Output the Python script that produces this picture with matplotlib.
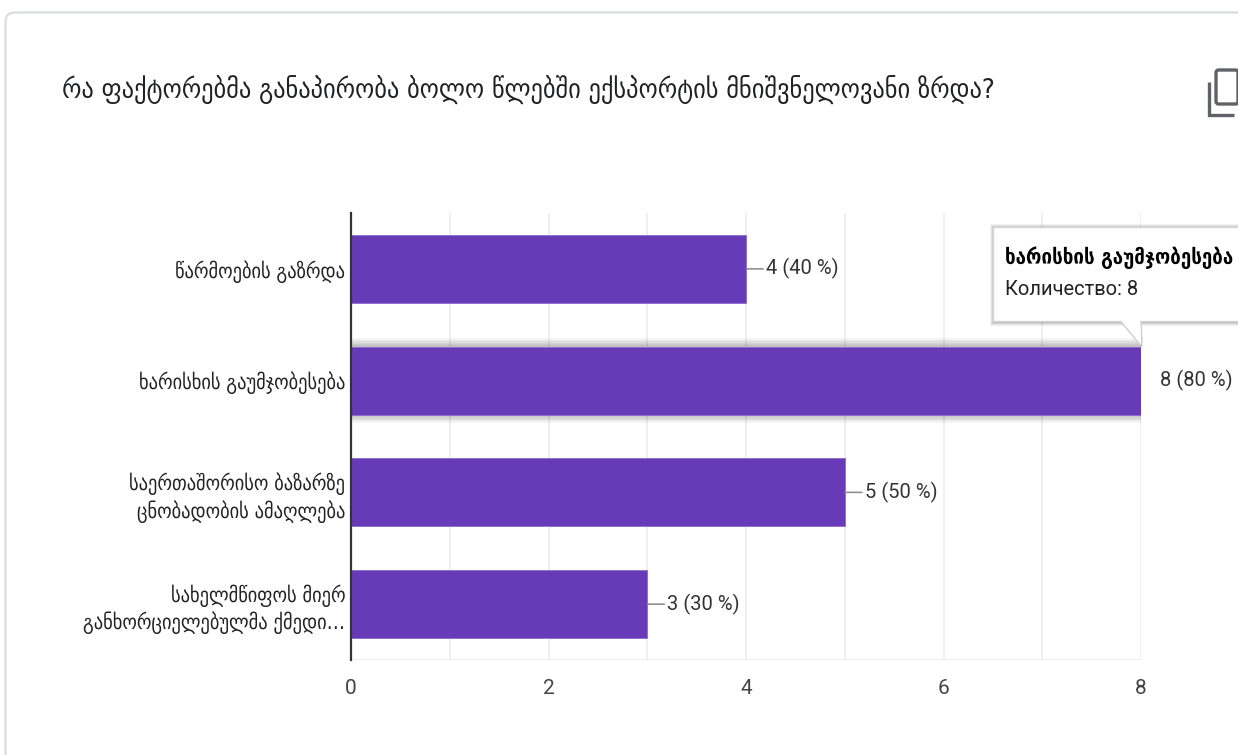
import matplotlib
matplotlib.use("Agg")
import matplotlib.pyplot as plt
from matplotlib.patches import FancyBboxPatch, Rectangle, Polygon
from matplotlib.lines import Line2D
from matplotlib.transforms import IdentityTransform

# --- data -------------------------------------------------------------
title = "რა ფაქტორებმა განაპირობა ბოლო წლებში ექსპორტის მნიშვნელოვანი ზრდა?"
categories = [
    "წარმოების გაზრდა",
    "ხარისხის გაუმჯობესება",
    "საერთაშორისო ბაზარზე\nცნობადობის ამაღლება",
    "სახელმწიფოს მიერ\nგანხორციელებულმა ქმედი…",
]
counts = [4, 8, 5, 3]
respondents = 10
x_ticks = [0, 2, 4, 6, 8]
highlighted = 1
tooltip_title = "ხარისხის გაუმჯობესება"
tooltip_label = "Количество"

# --- styles -----------------------------------------------------------
W, H = 1238, 755
BAR = "#673ab7"
GEO = dict(family=["DejaVu Sans"], fontstretch="condensed")
NUM = dict(family=["Roboto", "DejaVu Sans"])

fig = plt.figure(figsize=(W / 100, H / 100), dpi=100)
fig.patch.set_facecolor("white")

def fx(px):
    return px / W

def fy(py):
    return 1 - py / H

# card outline
card = FancyBboxPatch((5.5, -20), W + 40, H - 12.5 + 20,
                      boxstyle="round,pad=0,rounding_size=9",
                      transform=IdentityTransform(), facecolor="white",
                      edgecolor="#dadce0", linewidth=1.6, zorder=-5)
fig.patches.append(card)

# title
fig.text(fx(62), fy(90), title, fontsize=19.5, color="#202124",
         ha="left", va="center", **GEO)

# copy icon
icon_c = "#5f6368"
fig.add_artist(Line2D([fx(1208.5), fx(1208.5), fx(1234)],
                      [fy(82), fy(114.5), fy(114.5)],
                      color=icon_c, lw=2.4, solid_capstyle="butt",
                      solid_joinstyle="miter"))
fig.patches.append(FancyBboxPatch((1216, H - 104), 22, 34,
                                  boxstyle="round,pad=0,rounding_size=2.5",
                                  transform=IdentityTransform(),
                                  facecolor="none", edgecolor=icon_c, lw=2.4))

# --- chart ------------------------------------------------------------
ax = fig.add_axes([fx(351), fy(660), fx(1141) - fx(351), fy(213) - fy(660)])
ax.set_facecolor("none")
ax.set_xlim(0, 8)
ax.set_ylim(len(categories) - 0.5, -0.5)

for gx in range(0, 9):
    ax.axvline(gx, color="#ebebeb", lw=1.1, zorder=0)
ax.axhline(len(categories) - 0.5, color="#ebebeb", lw=1.2, zorder=0)

ypos = list(range(len(categories)))
bar_h = 0.61

# soft shadow behind the hovered bar
for k in range(1, 7):
    grow = k * 0.012
    ax.add_patch(Rectangle((0, highlighted - bar_h / 2 - grow),
                           counts[highlighted], bar_h + 2 * grow,
                           facecolor="black", alpha=0.045, lw=0, zorder=1))

ax.barh(ypos, counts, height=bar_h, color=BAR, zorder=2,
        edgecolor="#8c6bcc", linewidth=0.6)

for s in ["top", "right", "bottom"]:
    ax.spines[s].set_visible(False)
ax.spines["left"].set_color("#333333")
ax.spines["left"].set_linewidth(1.6)
ax.spines["left"].set_zorder(5)

ax.set_xticks(x_ticks)
ax.set_xticklabels([str(t) for t in x_ticks], fontsize=15, color="#444444",
                   **NUM)
ax.tick_params(axis="x", length=0, pad=14)
ax.set_yticks(ypos)
ax.set_yticklabels(categories, fontsize=14.8, color="#222222",
                   linespacing=1.3, **GEO)
ax.tick_params(axis="y", length=0, pad=4)

# value labels with leader lines
for y, v in zip(ypos, counts):
    txt = f"{v} ({round(100 * v / respondents)} %)"
    if v < ax.get_xlim()[1]:
        ax.annotate(txt, xy=(v, y), xytext=(20, 0), textcoords="offset pixels",
                    ha="left", va="center", fontsize=14.5, color="#333333",
                    arrowprops=dict(arrowstyle="-", color="#888888", lw=1.1,
                                    shrinkA=0, shrinkB=0),
                    annotation_clip=False, **NUM)
    else:
        ax.annotate(txt, xy=(v, y), xytext=(19, 0), textcoords="offset pixels",
                    ha="left", va="center", fontsize=14.5, color="#333333",
                    annotation_clip=False, **NUM)

# tooltip pointing at the hovered bar's end
fig.canvas.draw()
tip_x, tip_y = ax.transData.transform((counts[highlighted],
                                       highlighted - bar_h / 2))
box_l, box_r = tip_x - 148, tip_x + 120
box_b, box_t = tip_y + 26, tip_y + 120
for k, a in [(4, 0.05), (3, 0.06), (2, 0.08), (1, 0.1)]:
    fig.patches.append(Rectangle((box_l - k + 1, box_b - k - 1),
                                 box_r - box_l + 2 * k, box_t - box_b + 2 * k,
                                 transform=IdentityTransform(),
                                 facecolor="black", alpha=a, lw=0, zorder=8))
fig.patches.append(Polygon([(tip_x - 22, box_b + 1), (tip_x, box_b + 1),
                            (tip_x + 1, tip_y)], closed=True,
                           transform=IdentityTransform(), facecolor="white",
                           edgecolor="#cccccc", lw=1.0, zorder=9))
fig.patches.append(Rectangle((box_l, box_b), box_r - box_l, box_t - box_b,
                             transform=IdentityTransform(), facecolor="white",
                             edgecolor="#d6d6d6", lw=1.0, zorder=10))
fig.patches.append(Polygon([(tip_x - 21, box_b + 1.5), (tip_x - 1, box_b + 1.5),
                            (tip_x, tip_y + 2)], closed=True,
                           transform=IdentityTransform(), facecolor="white",
                           edgecolor="none", zorder=11))
fig.text((box_l + 12) / W, (box_t - 31) / H, tooltip_title, fontsize=15,
         fontweight="bold", color="#000000", ha="left", va="center",
         zorder=12, **GEO)
fig.text((box_l + 12) / W, (box_t - 63) / H,
         f"{tooltip_label}: {counts[highlighted]}", fontsize=14.5,
         color="#222222", ha="left", va="center", zorder=12, **NUM)

fig.savefig("out.png", dpi=100, facecolor="white")
